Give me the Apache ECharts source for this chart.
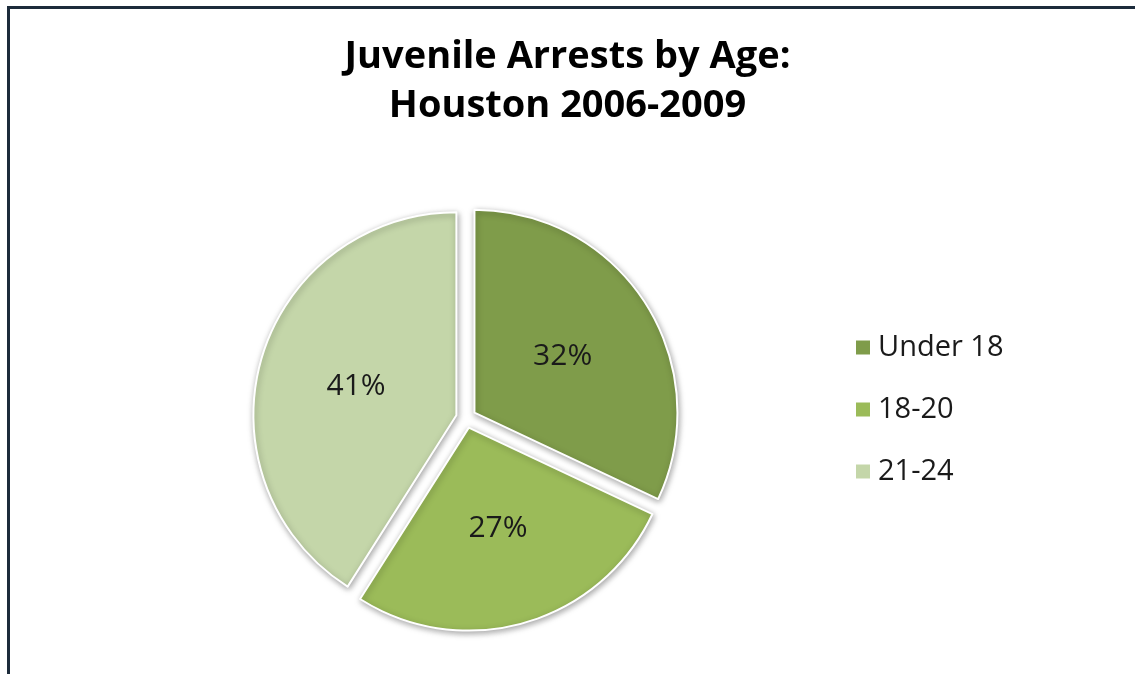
<!DOCTYPE html>
<html>
<head>
<meta charset="utf-8">
<script src="https://cdn.jsdelivr.net/npm/echarts@6/dist/echarts.min.js"></script>
<style>html,body{margin:0;padding:0;background:#fff;}#chart{width:1135px;height:674px;}</style>
</head>
<body>
<div id="chart"></div>
<script>
var categories = ['Under 18', '18-20', '21-24'];
var values = [32, 27, 41];
var colors = ['#7F9C4A', '#9BBB59', '#C4D6A9'];
var titleLines = ['Juvenile Arrests by Age:', 'Houston 2006-2009'];

var chart = echarts.init(document.getElementById('chart'));
var data = categories.map(function (c, i) {
  return { name: c, value: values[i], selected: true, itemStyle: { color: colors[i] } };
});
chart.setOption({
  animation: false,
  title: {
    text: titleLines.join('\n'),
    left: 'center',
    top: 28,
    textStyle: { fontFamily: 'Open Sans', fontWeight: 'bold', fontSize: 38, lineHeight: 49, color: '#000' }
  },
  legend: {
    orient: 'vertical',
    left: 849,
    top: 328,
    itemWidth: 16,
    itemHeight: 16,
    itemGap: 33,
    icon: 'rect',
    selectedMode: false,
    textStyle: { fontFamily: 'Open Sans', fontSize: 29, color: '#1a1a1a', padding: [0, 0, 0, 2] },
    data: categories
  },
  graphic: [
    { type: 'line', shape: { x1: 8, y1: 7.5, x2: 1135, y2: 7.5 }, style: { stroke: '#1c2b3b', lineWidth: 3 } },
    { type: 'line', shape: { x1: 8.5, y1: 6, x2: 8.5, y2: 674 }, style: { stroke: '#1c2b3b', lineWidth: 3 } }
  ],
  series: [{
    type: 'pie',
    center: [466, 418],
    radius: 203,
    startAngle: 90,
    clockwise: true,
    selectedMode: 'multiple',
    selectedOffset: 10,
    silent: true,
    itemStyle: {
      borderColor: '#fff',
      borderWidth: 2,
      shadowBlur: 6,
      shadowOffsetX: 1,
      shadowOffsetY: 2,
      shadowColor: 'rgba(0,0,0,0.35)'
    },
    label: {
      show: true,
      position: 'inside',
      formatter: function (p) { return p.value + '%'; },
      fontFamily: 'Open Sans',
      fontSize: 30,
      color: '#1a1a1a'
    },
    labelLine: { show: false },
    data: data
  }]
});
</script>
</body>
</html>
